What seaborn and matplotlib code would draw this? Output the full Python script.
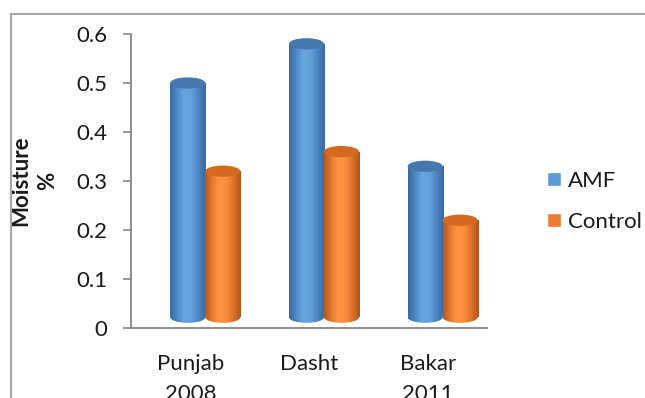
import numpy as np
import pandas as pd
import matplotlib
matplotlib.use("Agg")
import matplotlib.pyplot as plt
import seaborn as sns
from matplotlib.patches import Ellipse, Rectangle
from matplotlib.colors import LinearSegmentedColormap

# ---- data ----
sites = ["Punjab\n2008", "Dasht", "Bakar\n2011"]
treatments = ["AMF", "Control"]
amf = [0.50, 0.58, 0.33]
control = [0.32, 0.36, 0.22]
yticks = [0, 0.1, 0.2, 0.3, 0.4, 0.5, 0.6]
ytick_labels = ["0", "0.1", "0.2", "0.3", "0.4", "0.5", "0.6"]

df = pd.DataFrame({
    "site": sites * 2,
    "moisture": amf + control,
    "treatment": [treatments[0]] * len(sites) + [treatments[1]] * len(sites),
})

sns.set_theme(style="white")
plt.rcParams["font.family"] = ["Lato", "DejaVu Sans"]

FS = 16
W, H = 645, 398
fig = plt.figure(figsize=(W / 100, H / 100), dpi=100)
ax = fig.add_axes([131 / W, 1 - 328 / H, (487 - 131) / W, (328 - 34) / H])

palette = {"AMF": "#5b9bd5", "Control": "#ed7d31"}
sns.barplot(data=df, x="site", y="moisture", hue="treatment", order=sites,
            hue_order=treatments, palette=palette, width=0.59, saturation=1,
            ax=ax)

# ---- cylinder styling ----
grads = {
    "AMF": (["#3a689e", "#4c88c6", "#69a6e0", "#64a0db", "#4b84c0", "#3a699f"], "#4778ad"),
    "Control": (["#b5581a", "#e3792f", "#ff9645", "#f98d3c", "#da702a", "#b15518"], "#d4691f"),
}
base = 0.022
eh = 0.023
shift = 0.126
grad = np.linspace(0, 1, 256).reshape(1, -1)
for k, (cont, name) in enumerate(zip(ax.containers, treatments)):
    cmap = LinearSegmentedColormap.from_list(name, grads[name][0])
    zb = 2 + k
    for bar in cont:
        x0 = bar.get_x() + shift
        w = bar.get_width()
        top = bar.get_height()
        bar.set_x(x0)
        bar.set_y(base)
        bar.set_height(top - base)
        bar.set_facecolor("none")
        bar.set_edgecolor("none")
        bottom = Ellipse((x0 + w / 2, base), w, eh, facecolor="none", edgecolor="none")
        ax.add_patch(bottom)
        for clip in (bar, bottom):
            im = ax.imshow(grad, cmap=cmap, extent=[x0, x0 + w, base - eh, top],
                           aspect="auto", origin="lower", zorder=zb,
                           interpolation="bilinear")
            im.set_clip_path(clip)
        ax.add_patch(Ellipse((x0 + w / 2, top), w, eh, facecolor=grads[name][1],
                             edgecolor="none", zorder=zb + 0.5))

ax.set_xlim(-0.5, 2.5)
ax.set_ylim(0, 0.6)
ax.set_yticks(yticks)
ax.set_yticklabels(ytick_labels)
ax.set_xticks(range(len(sites)))
ax.set_xticklabels(sites, linespacing=1.6, va="top")
sns.despine(ax=ax)
for s in ("left", "bottom"):
    ax.spines[s].set_color("#868686")
    ax.spines[s].set_linewidth(1.3)
ax.tick_params(axis="y", left=True, length=6, width=1.2, color="#868686",
               pad=11, labelsize=FS, labelcolor="#1a1a1a")
ax.tick_params(axis="x", bottom=False, pad=13, labelsize=FS, labelcolor="#1a1a1a")
ax.set_xlabel("")
ax.set_ylabel("Moisture\n%", fontsize=FS, fontweight="bold", color="#1a1a1a",
              linespacing=1.35)
ax.yaxis.set_label_coords((58 - 131) / (487 - 131), 0.5)

sns.move_legend(ax, loc="center left", bbox_to_anchor=(547 / W, 1 - 201.5 / H),
                bbox_transform=fig.transFigure, frameon=False, title=None,
                fontsize=FS, handlelength=0.63, handleheight=0.6,
                handletextpad=0.3, labelspacing=0.95, borderpad=0,
                borderaxespad=0)
for t in ax.get_legend().get_texts():
    t.set_color("#1a1a1a")

fig.add_artist(Rectangle((11 / W, -1), 2, 2 - 14 / H, transform=fig.transFigure,
                         fill=False, edgecolor="#a6a6a6", linewidth=1.5))

fig.savefig("out.png", dpi=100)
